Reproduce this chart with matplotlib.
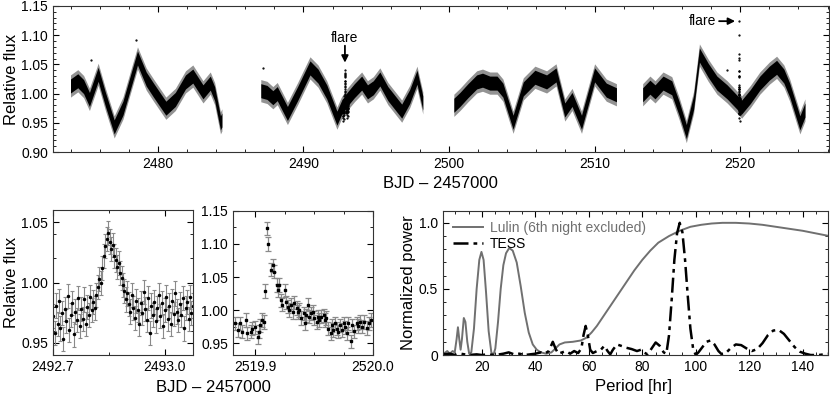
import numpy as np
import matplotlib
matplotlib.use('Agg')
import matplotlib.pyplot as plt
from matplotlib.ticker import MultipleLocator, FormatStrFormatter, FixedLocator, FixedFormatter

plt.rcParams.update({
    'font.family': ['Liberation Sans', 'DejaVu Sans'],
    'font.size': 10,
    'axes.linewidth': 0.8,
    'axes.edgecolor': '#333333',
    'xtick.direction': 'in', 'ytick.direction': 'in',
    'xtick.top': True, 'ytick.right': True,
    'xtick.minor.visible': True, 'ytick.minor.visible': True,
    'xtick.major.size': 4, 'ytick.major.size': 4,
    'xtick.minor.size': 2, 'ytick.minor.size': 2,
    'xtick.labelsize': 10, 'ytick.labelsize': 10,
})

# ---- TESS light curve: centre of the point cloud per orbit chunk ----
chunk1_t = [2474.0, 2474.5, 2474.9, 2475.3, 2475.9, 2476.4, 2477.0, 2477.6, 2478.6, 2479.2,
            2479.7, 2480.55, 2481.2, 2481.9, 2482.4, 2483.1, 2483.6, 2483.9, 2484.3, 2484.4]
chunk1_f = [1.013, 1.022, 1.012, 0.990, 1.033, 0.990, 0.943, 0.975, 1.061, 1.025,
            1.006, 0.975, 0.990, 1.020, 1.030, 1.003, 1.018, 1.000, 0.950, 0.955]
chunk2_t = [2487.07, 2487.5, 2487.9, 2488.2, 2488.9, 2489.6, 2490.45, 2491.0, 2491.6, 2492.3,
            2492.6, 2493.0, 2493.5, 2494.0, 2494.4, 2494.8, 2495.25, 2495.8, 2496.75, 2497.3,
            2497.8, 2498.2]
chunk2_f = [1.005, 1.002, 0.993, 1.000, 0.966, 1.000, 1.044, 1.030, 1.003, 0.958,
            0.975, 0.990, 1.005, 1.018, 1.003, 1.010, 1.025, 1.000, 0.970, 0.995,
            1.028, 0.984]
chunk3_t = [2500.33, 2500.75, 2501.3, 2501.9, 2502.3, 2502.8, 2503.3, 2503.7, 2504.4, 2505.1,
            2505.9, 2506.7, 2507.35, 2507.95, 2508.45, 2509.1, 2510.0, 2510.8, 2511.5]
chunk3_f = [0.980, 0.990, 1.005, 1.020, 1.023, 1.018, 1.018, 1.006, 0.951, 1.008,
            1.028, 1.020, 1.032, 0.972, 0.990, 0.951, 1.032, 1.006, 0.998]
chunk4_t = [2513.3, 2513.8, 2514.15, 2514.7, 2515.3, 2515.8, 2516.3, 2516.8, 2517.2, 2517.8,
            2518.4, 2519.1, 2520.1, 2520.7, 2521.35, 2522.0, 2522.5, 2523.0, 2523.4, 2524.1,
            2524.45]
chunk4_f = [0.998, 1.011, 1.003, 1.018, 1.010, 0.975, 0.935, 0.985, 1.066, 1.040,
            1.018, 1.003, 0.977, 0.995, 1.018, 1.035, 1.045, 1.030, 1.006, 0.950,
            0.972]

# stray points above the cloud
stray_t = [2475.4, 2478.5, 2487.2, 2519.1]
stray_f = [1.058, 1.092, 1.044, 1.040]

# ---- flare 1 zoom (TESS 2-min) ----
flare1_t = [2492.700, 2492.704, 2492.708, 2492.712, 2492.716, 2492.720, 2492.724, 2492.728,
            2492.732, 2492.736, 2492.740, 2492.744, 2492.748, 2492.752, 2492.756, 2492.760,
            2492.764, 2492.768, 2492.772, 2492.776, 2492.780, 2492.784, 2492.788, 2492.792,
            2492.796, 2492.800, 2492.804, 2492.808, 2492.812, 2492.816, 2492.820, 2492.824,
            2492.828, 2492.832, 2492.836, 2492.840, 2492.844, 2492.848, 2492.852, 2492.856,
            2492.860, 2492.864, 2492.868, 2492.872, 2492.876, 2492.880, 2492.884, 2492.888,
            2492.892, 2492.896, 2492.900, 2492.904, 2492.908, 2492.912, 2492.916, 2492.920,
            2492.924, 2492.928, 2492.932, 2492.936, 2492.940, 2492.944, 2492.948, 2492.952,
            2492.956, 2492.960, 2492.964, 2492.968, 2492.972, 2492.976, 2492.980, 2492.984,
            2492.988, 2492.992, 2492.996, 2493.000, 2493.004, 2493.008, 2493.012, 2493.016,
            2493.020, 2493.024, 2493.028, 2493.032, 2493.036, 2493.040, 2493.044, 2493.048,
            2493.052, 2493.056, 2493.060, 2493.064, 2493.068, 2493.072, 2493.076]
flare1_f = [0.972, 0.958, 0.981, 0.966, 0.985, 0.962, 0.975, 0.953,
            0.978, 0.968, 0.989, 0.961, 0.973, 0.983, 0.957, 0.976,
            0.969, 0.987, 0.964, 0.978, 0.970, 0.986, 0.966, 0.980,
            0.973, 0.988, 0.977, 0.984, 0.979, 0.990, 0.996, 1.003,
            1.000, 1.012, 1.022, 1.030, 1.036, 1.041, 1.034, 1.028,
            1.031, 1.022, 1.019, 1.013, 1.016, 1.008, 1.004, 0.998,
            0.993, 0.986, 0.991, 0.982, 0.976, 0.990, 0.979, 0.971,
            0.985, 0.977, 0.966, 0.983, 0.975, 0.992, 0.978, 0.969,
            0.987, 0.958, 0.981, 0.973, 0.984, 0.968, 0.979, 0.990,
            0.972, 0.983, 0.964, 0.977, 0.988, 0.970, 0.981, 0.966,
            0.985, 0.974, 0.991, 0.976, 0.969, 0.982, 0.973, 0.987,
            0.962, 0.979, 0.984, 0.970, 0.988, 0.975, 0.981]
flare1_err = 0.010

# ---- flare 2 zoom ----
flare2_t = [2519.883, 2519.885, 2519.887, 2519.889, 2519.892, 2519.893, 2519.896, 2519.897,
            2519.900, 2519.902, 2519.903, 2519.904, 2519.906, 2519.907, 2519.908, 2519.910,
            2519.911, 2519.913, 2519.915, 2519.916, 2519.918, 2519.919, 2519.920, 2519.922,
            2519.923, 2519.925, 2519.926, 2519.928, 2519.929, 2519.930, 2519.932, 2519.933,
            2519.935, 2519.936, 2519.937, 2519.939, 2519.941, 2519.942, 2519.943, 2519.945,
            2519.946, 2519.947, 2519.949, 2519.950, 2519.952, 2519.953, 2519.954, 2519.956,
            2519.958, 2519.959, 2519.960, 2519.962, 2519.964, 2519.965, 2519.966, 2519.968,
            2519.969, 2519.970, 2519.972, 2519.974, 2519.975, 2519.976, 2519.978, 2519.979,
            2519.981, 2519.982, 2519.984, 2519.986, 2519.987, 2519.989, 2519.991, 2519.992,
            2519.995, 2519.997, 2519.998]
flare2_f = [0.980, 0.970, 0.980, 0.967, 0.985, 0.965, 0.967, 0.972,
            0.974, 0.959, 0.967, 0.977, 0.985, 0.982, 1.029, 1.124,
            1.100, 1.061, 1.068, 1.058, 1.038, 1.030, 1.038, 1.015,
            1.008, 1.030, 1.012, 1.005, 1.000, 1.008, 0.997, 1.011,
            1.003, 0.997, 1.000, 0.988, 0.995, 0.980, 0.992, 1.008,
            0.990, 0.995, 0.997, 0.988, 0.982, 0.990, 0.985, 0.990,
            0.992, 0.985, 0.988, 0.972, 0.965, 0.977, 0.970, 0.980,
            0.972, 0.967, 0.977, 0.970, 0.980, 0.974, 0.965, 0.980,
            0.953, 0.977, 0.968, 0.980, 0.976, 0.982, 0.975, 0.982,
            0.973, 0.980, 0.985]
flare2_err = 0.010

# ---- periodograms ----
lulin_p = [5, 6, 7, 8, 9, 9.8, 10.5, 11.0, 11.5, 12.0, 12.5, 13.2, 13.8, 14.5, 15.2, 16.0,
           17.0, 18.0, 19.0, 19.8, 20.6, 21.5, 22.5, 23.5, 24.3, 25.0, 26.0, 27.0, 28.0, 29.0,
           30.2, 31.5, 33.0, 34.5, 36.0, 37.5, 39.0, 40.5, 42.0, 44.0, 46.0, 47.5, 49.0, 51.0,
           54.0, 57.0, 59.0, 61.0, 63.0, 65.0, 67.0, 69.0, 71.0, 73.0, 75.0, 77.0, 80.0, 83.0,
           86.0, 90.0, 94.0, 98.0, 102.0, 106.0, 110.0, 115.0, 120.0, 125.0, 130.0, 135.0,
           140.0, 145.0, 150.0]
lulin_pow = [0.02, 0.015, 0.03, 0.01, 0.03, 0.02, 0.12, 0.21, 0.12, 0.04, 0.12, 0.28, 0.25,
             0.10, 0.01, 0.02, 0.20, 0.50, 0.72, 0.78, 0.72, 0.48, 0.18, 0.02, 0.0, 0.05,
             0.25, 0.50, 0.68, 0.77, 0.81, 0.79, 0.70, 0.52, 0.32, 0.17, 0.08, 0.04, 0.02,
             0.01, 0.02, 0.05, 0.08, 0.095, 0.10, 0.11, 0.13, 0.17, 0.22, 0.28, 0.34, 0.40,
             0.46, 0.52, 0.58, 0.64, 0.72, 0.79, 0.85, 0.90, 0.94, 0.97, 0.985, 0.995, 1.0,
             1.0, 0.995, 0.985, 0.97, 0.955, 0.94, 0.92, 0.90]
tess_p = [5, 8, 10, 12, 15, 18, 20, 22, 25, 28, 30, 32, 34, 36, 38, 40, 42, 43.5, 45, 46.5,
          47.5, 48.5, 50, 51.5, 53, 54.5, 56, 57.2, 58.0, 58.8, 59.6, 60.5, 61.5, 63, 64.5,
          65.8, 67, 68, 69, 70.5, 72, 74, 76, 78, 79.5, 80.5, 82, 83.5, 85, 86.5, 88, 89, 90,
          91, 92, 93, 94, 95, 96, 97, 98, 99, 100, 101, 102.5, 104, 105.5, 107, 108.5, 110,
          111.5, 113, 115, 117, 119, 121, 123, 125, 127, 129, 131, 133, 135, 137, 139, 141,
          143, 146, 148, 150]
tess_pow = [0.005, 0.01, 0.0, 0.01, 0.0, 0.005, 0.0, 0.005, 0.0, 0.01, 0.02, 0.005, 0.01, 0.0,
            0.005, 0.01, 0.02, 0.01, 0.03, 0.10, 0.05, 0.01, 0.02, 0.03, 0.01, 0.03, 0.015,
            0.05, 0.15, 0.22, 0.15, 0.04, 0.015, 0.03, 0.04, 0.07, 0.03, 0.005, 0.04, 0.08,
            0.07, 0.055, 0.045, 0.03, 0.04, 0.02, 0.005, 0.05, 0.095, 0.07, 0.02, 0.01, 0.15,
            0.42, 0.72, 0.92, 1.0, 0.93, 0.72, 0.45, 0.2, 0.05, 0.0, 0.02, 0.06, 0.10, 0.11,
            0.08, 0.03, 0.0, 0.02, 0.05, 0.08, 0.075, 0.05, 0.03, 0.045, 0.09, 0.15, 0.185,
            0.19, 0.16, 0.11, 0.06, 0.025, 0.01, 0.0, 0.0, 0.005, 0.01]

# half-widths of the drawn point cloud (dense core and sparse fringe)
BAND_CORE = 0.012
BAND_HALO = 0.019

fig = plt.figure(figsize=(8.30, 3.98), dpi=100)
ax_lc = fig.add_axes([0.0639, 0.618, 0.9349, 0.367])
ax_f1 = fig.add_axes([0.0639, 0.108, 0.1686, 0.364])
ax_f2 = fig.add_axes([0.2807, 0.108, 0.1687, 0.362])
ax_pg = fig.add_axes([0.5337, 0.108, 0.4639, 0.362])

# top: full light curve
for t, f in [(chunk1_t, chunk1_f), (chunk2_t, chunk2_f), (chunk3_t, chunk3_f), (chunk4_t, chunk4_f)]:
    t = np.array(t); f = np.array(f)
    ax_lc.fill_between(t, f - BAND_HALO, f + BAND_HALO, color='#3a3a3a', alpha=0.55, lw=0)
    ax_lc.fill_between(t, f - BAND_CORE, f + BAND_CORE, color='black', lw=0)
ax_lc.plot(flare1_t, flare1_f, '.', color='black', ms=1.2)
ax_lc.plot(flare2_t, flare2_f, '.', color='black', ms=1.2)
ax_lc.plot(stray_t, stray_f, '.', color='black', ms=1.2)
ax_lc.set_xlim(2472.8, 2526.1)
ax_lc.set_ylim(0.90, 1.15)
ax_lc.xaxis.set_major_locator(MultipleLocator(10))
ax_lc.xaxis.set_minor_locator(MultipleLocator(2))
ax_lc.yaxis.set_major_locator(MultipleLocator(0.05))
ax_lc.yaxis.set_minor_locator(MultipleLocator(0.01))
ax_lc.yaxis.set_major_formatter(FormatStrFormatter('%.2f'))

# flare markers
ax_lc.text(2492.85, 1.096, 'flare', ha='center', va='center', fontsize=10)
ax_lc.annotate('', xy=(2492.85, 1.053), xytext=(2492.85, 1.082),
               arrowprops=dict(arrowstyle='-|>', color='black', lw=1.3,
                               shrinkA=0, shrinkB=0, mutation_scale=10))
ax_lc.text(2517.43, 1.124, 'flare', ha='center', va='center', fontsize=10)
ax_lc.annotate('', xy=(2519.65, 1.124), xytext=(2518.55, 1.124),
               arrowprops=dict(arrowstyle='-|>', color='black', lw=1.3,
                               shrinkA=0, shrinkB=0, mutation_scale=10))

# flare 1
ax_f1.errorbar(flare1_t, flare1_f, yerr=flare1_err, fmt='o', ms=1.5, color='black',
               ecolor='#8a8a8a', elinewidth=0.8, capsize=1.5, capthick=0.8)
ax_f1.set_xlim(2492.7, 2493.076)
ax_f1.set_ylim(0.940, 1.060)
ax_f1.xaxis.set_major_locator(FixedLocator([2492.7, 2493.0]))
ax_f1.xaxis.set_major_formatter(FixedFormatter(['2492.7', '2493.0']))
ax_f1.xaxis.set_minor_locator(FixedLocator([2492.85]))
ax_f1.yaxis.set_major_locator(MultipleLocator(0.05))
ax_f1.yaxis.set_minor_locator(MultipleLocator(0.02))
ax_f1.yaxis.set_major_formatter(FormatStrFormatter('%.2f'))

# flare 2
ax_f2.errorbar(flare2_t, flare2_f, yerr=flare2_err, fmt='s', ms=1.8, color='black',
               ecolor='#8a8a8a', elinewidth=0.9, capsize=2, capthick=0.9)
ax_f2.set_xlim(2519.881, 2520.0)
ax_f2.set_ylim(0.932, 1.15)
ax_f2.xaxis.set_major_locator(FixedLocator([2519.9, 2520.0]))
ax_f2.xaxis.set_major_formatter(FixedFormatter(['2519.9', '2520.0']))
ax_f2.xaxis.set_minor_locator(MultipleLocator(0.025))
ax_f2.yaxis.set_major_locator(MultipleLocator(0.05))
ax_f2.yaxis.set_minor_locator(MultipleLocator(0.025))
ax_f2.yaxis.set_major_formatter(FormatStrFormatter('%.2f'))

# periodogram
ax_pg.plot(lulin_p, lulin_pow, color='#707070', lw=1.4, label='Lulin (6th night excluded)')
ax_pg.plot(tess_p, tess_pow, color='black', lw=1.8, linestyle=(0, (6, 2, 1.5, 2)), label='TESS')
ax_pg.set_xlim(5.4, 149.5)
ax_pg.set_ylim(0, 1.09)
ax_pg.xaxis.set_major_locator(MultipleLocator(20))
ax_pg.xaxis.set_minor_locator(MultipleLocator(5))
ax_pg.yaxis.set_major_locator(FixedLocator([0, 0.5, 1.0]))
ax_pg.yaxis.set_major_formatter(FixedFormatter(['0', '0.5', '1.0']))
ax_pg.yaxis.set_minor_locator(MultipleLocator(0.1))
leg = ax_pg.legend(loc='upper left', bbox_to_anchor=(0.0, 1.0), frameon=False, fontsize=10,
                   handlelength=2.2, handletextpad=0.5, labelspacing=0.15, borderaxespad=0.3)
leg.get_texts()[0].set_color('#707070')

# axis labels
fig.text(440 / 830, 1 - 183 / 398, 'BJD – 2457000', ha='center', va='center', fontsize=12)
fig.text(213 / 830, 1 - 387 / 398, 'BJD – 2457000', ha='center', va='center', fontsize=12)
fig.text(633 / 830, 1 - 387 / 398, 'Period [hr]', ha='center', va='center', fontsize=12)
fig.text(12 / 830, 1 - 79 / 398, 'Relative flux', ha='center', va='center', rotation=90, fontsize=12)
fig.text(12 / 830, 1 - 282 / 398, 'Relative flux', ha='center', va='center', rotation=90, fontsize=12)
fig.text(408 / 830, 1 - 283 / 398, 'Normalized power', ha='center', va='center', rotation=90, fontsize=12)

fig.savefig('out.png', dpi=100)
